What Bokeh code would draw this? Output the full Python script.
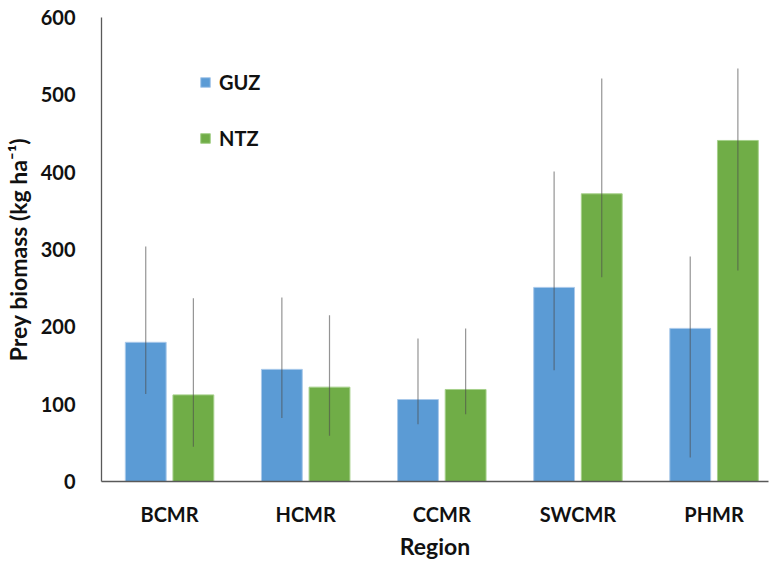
from bokeh.plotting import figure
from bokeh.models import (ColumnDataSource, Range1d, FixedTicker, Legend, LegendItem)
from bokeh.embed import file_html
from bokeh.resources import INLINE

categories = ["BCMR", "HCMR", "CCMR", "SWCMR", "PHMR"]
guz = [180, 145, 106, 251, 198]
guz_hi = [304, 238, 185, 401, 291]
guz_lo = [113, 82, 74, 144, 31]
ntz = [112, 122, 119, 372, 441]
ntz_hi = [237, 215, 198, 521, 534]
ntz_lo = [45, 59, 87, 264, 273]
y_ticks = [0, 100, 200, 300, 400, 500, 600]

BLUE = "#5B9BD5"
GREEN = "#70AD47"
FONT = "Lato"

centers = [i + 0.5 for i in range(len(categories))]
off = 0.175
bw = 0.30

src_g = ColumnDataSource(dict(x=[c - off for c in centers], top=guz, lo=guz_lo, hi=guz_hi))
src_n = ColumnDataSource(dict(x=[c + off for c in centers], top=ntz, lo=ntz_lo, hi=ntz_hi))

p = figure(frame_width=667, frame_height=464, output_backend="svg", toolbar_location=None,
           x_range=Range1d(0, 4.9), y_range=Range1d(0, 600),
           min_border_left=90, min_border_top=17, min_border_bottom=68, min_border_right=7)
p.outline_line_color = None
p.grid.grid_line_color = None

rg = p.vbar(x="x", top="top", width=bw, source=src_g, fill_color=BLUE, line_color="#a9c9ea", line_width=1)
rn = p.vbar(x="x", top="top", width=bw, source=src_n, fill_color=GREEN, line_color="#a6d08a", line_width=1)
p.segment(x0="x", y0="lo", x1="x", y1="hi", source=src_g, line_color="#4d4d4d", line_alpha=0.6, line_width=1.2)
p.segment(x0="x", y0="lo", x1="x", y1="hi", source=src_n, line_color="#4d4d4d", line_alpha=0.6, line_width=1.2)

p.xaxis.ticker = FixedTicker(ticks=centers)
p.xaxis.major_label_overrides = {c: name for c, name in zip(centers, categories)}
p.yaxis.ticker = FixedTicker(ticks=y_ticks)

for ax in (p.xaxis[0], p.yaxis[0]):
    ax.major_tick_line_color = None
    ax.minor_tick_line_color = None
    ax.axis_line_color = "#595959"
    ax.axis_line_width = 1.3
    ax.major_label_text_font = FONT
    ax.major_label_text_font_style = "bold"
    ax.major_label_text_font_size = "20px"
    ax.major_label_text_color = "#111111"
    ax.axis_label_text_font = FONT
    ax.axis_label_text_font_style = "bold"
    ax.axis_label_text_font_size = "23px"
    ax.axis_label_text_color = "#111111"

p.xaxis.axis_label = "Region"
p.yaxis.axis_label = "Prey biomass (kg ha\u207b\u00b9)"
p.xaxis.major_label_standoff = 14
p.xaxis.axis_label_standoff = 3
p.yaxis.major_label_standoff = 20
p.yaxis.axis_label_standoff = 6

legend = Legend(items=[LegendItem(label="GUZ", renderers=[rg]), LegendItem(label="NTZ", renderers=[rn])],
                location=(98, 331), padding=0, margin=0, spacing=32,
                glyph_width=12, glyph_height=12, label_height=20, label_standoff=8,
                label_text_font=FONT, label_text_font_style="bold", label_text_font_size="20px",
                label_text_color="#111111",
                border_line_color=None, background_fill_alpha=0)
p.add_layout(legend, "center")

open("out.html", "w").write(file_html(p, INLINE))
